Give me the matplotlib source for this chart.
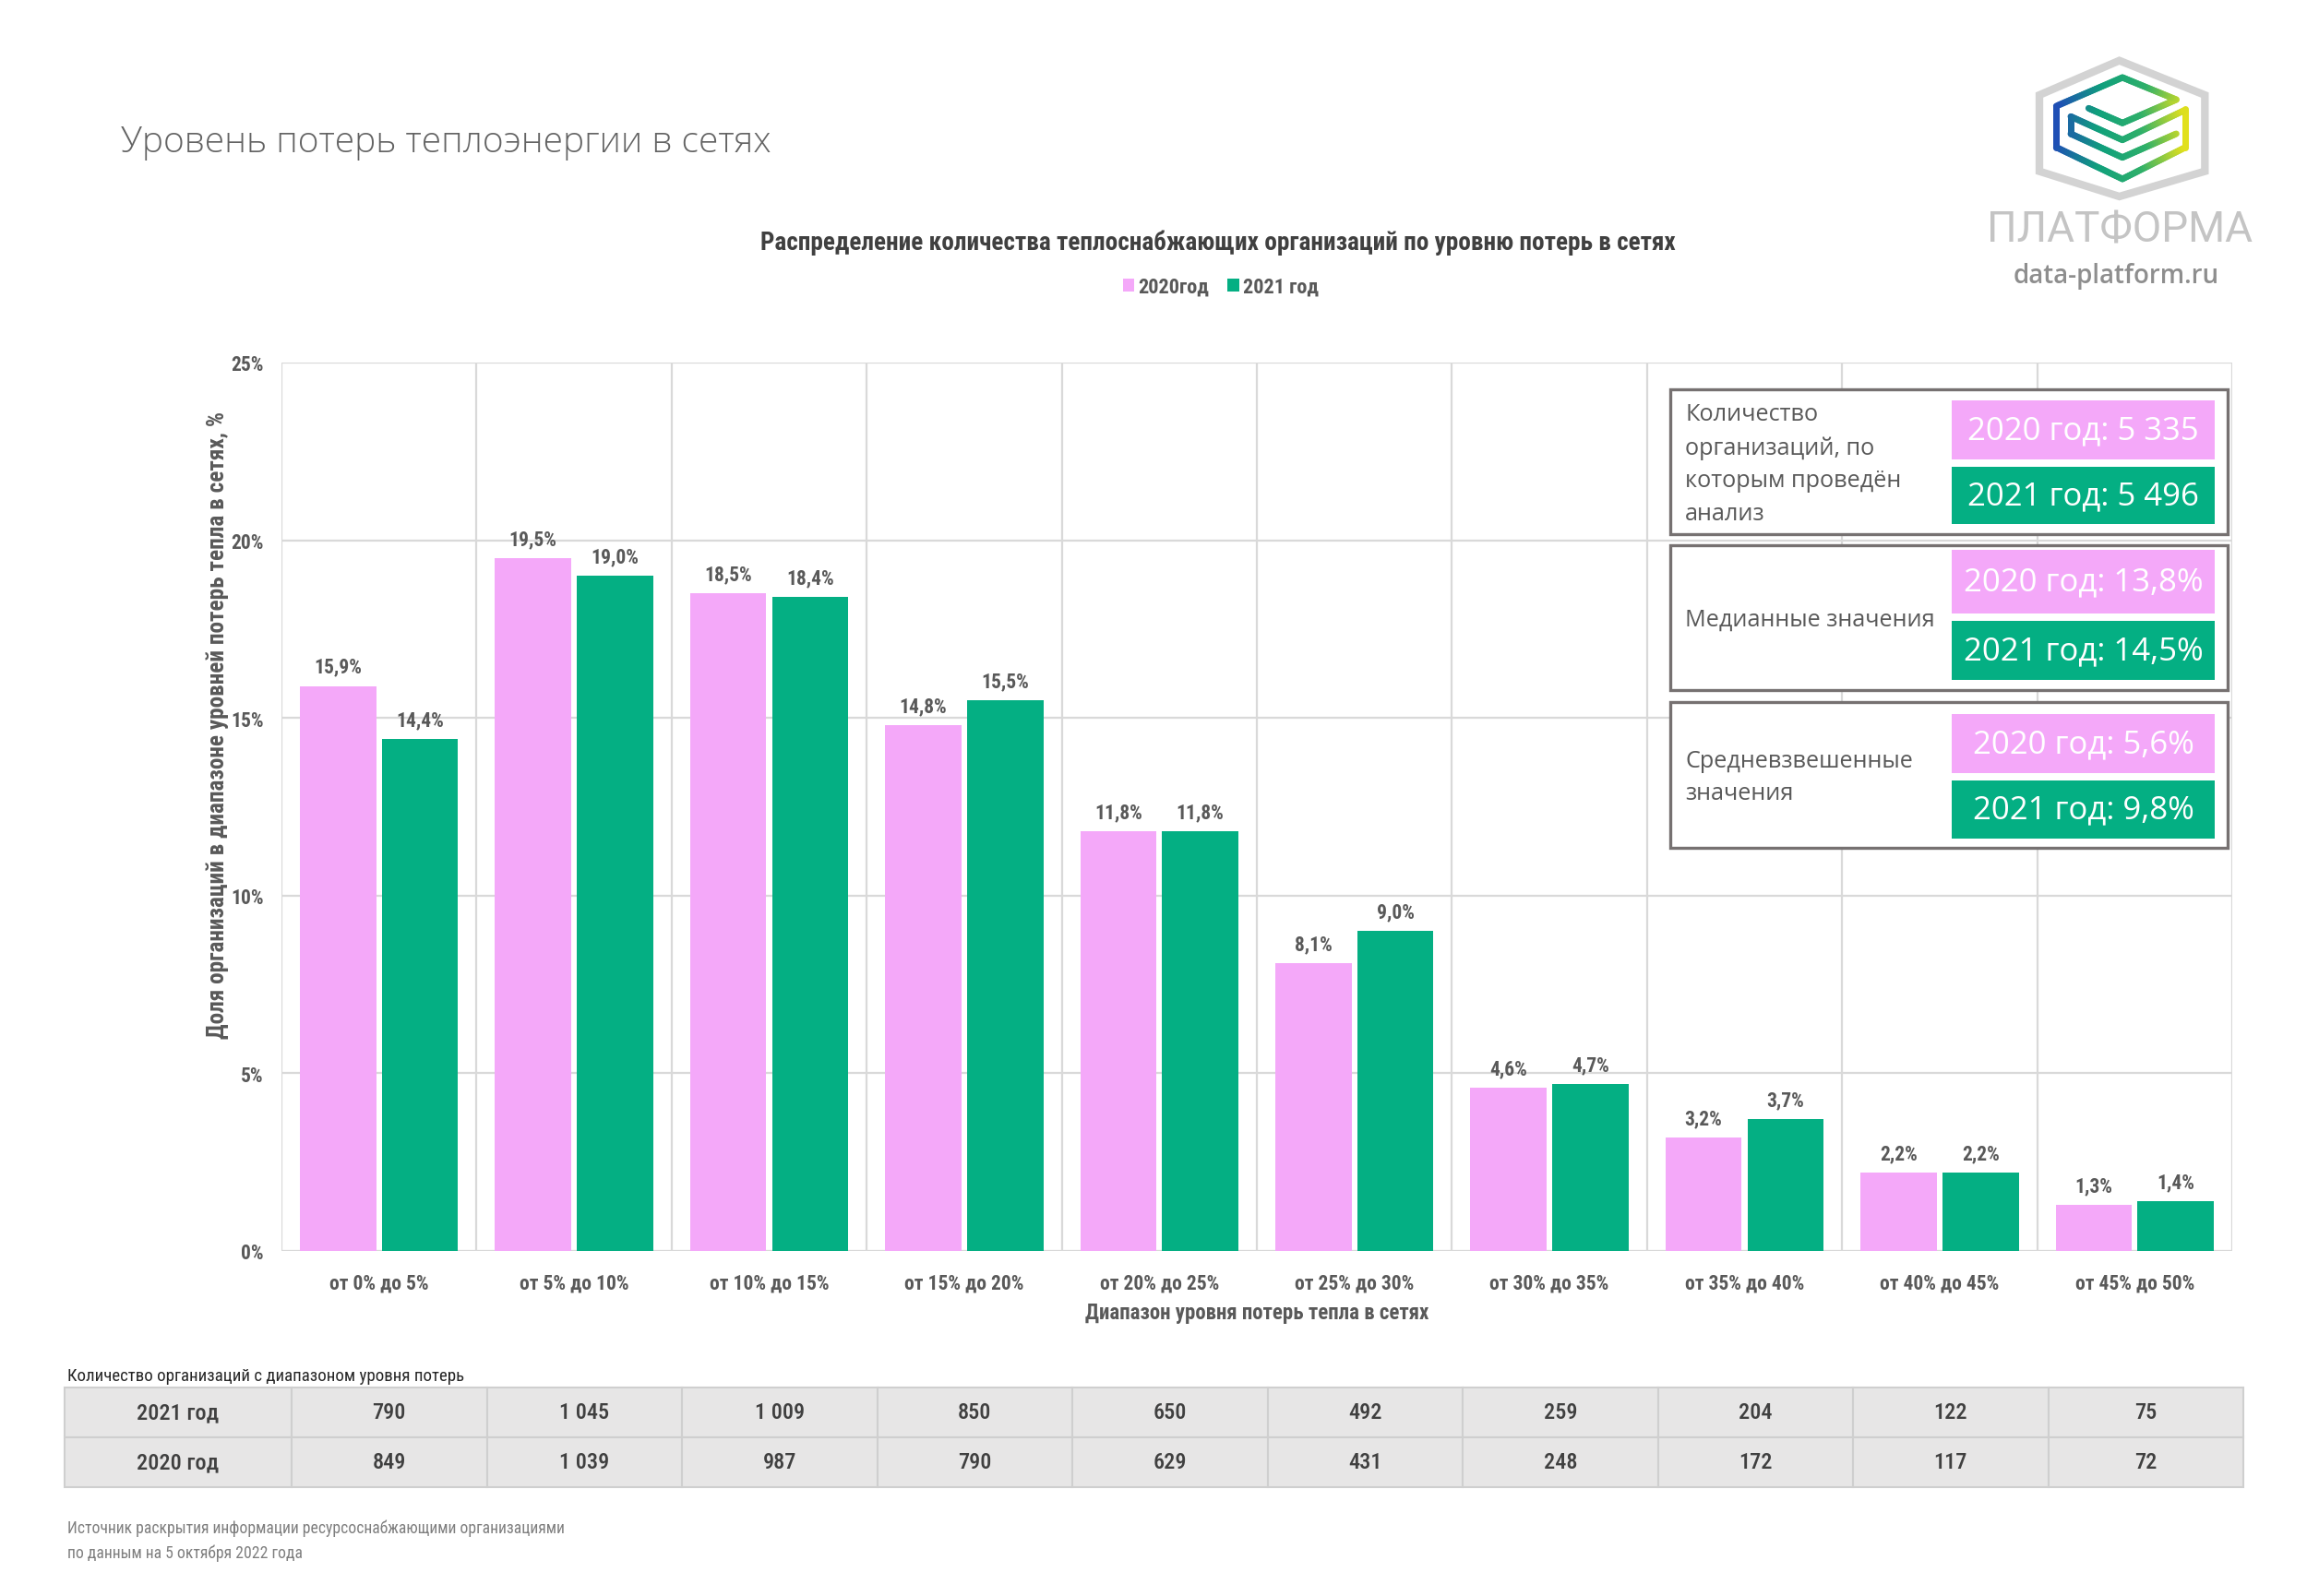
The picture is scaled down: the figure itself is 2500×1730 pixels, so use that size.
import numpy as np
import matplotlib
matplotlib.use("Agg")
import matplotlib.pyplot as plt
from matplotlib import font_manager as fm
from matplotlib.patches import Rectangle, Polygon
from matplotlib.collections import LineCollection
from matplotlib.colors import LinearSegmentedColormap

# ---------------- data ----------------
categories = ['от 0% до 5%', 'от 5% до 10%', 'от 10% до 15%', 'от 15% до 20%',
              'от 20% до 25%', 'от 25% до 30%', 'от 30% до 35%', 'от 35% до 40%',
              'от 40% до 45%', 'от 45% до 50%']
share_2020 = [15.9, 19.5, 18.5, 14.8, 11.8, 8.1, 4.6, 3.2, 2.2, 1.3]
share_2021 = [14.4, 19.0, 18.4, 15.5, 11.8, 9.0, 4.7, 3.7, 2.2, 1.4]
count_2021 = [790, 1045, 1009, 850, 650, 492, 259, 204, 122, 75]
count_2020 = [849, 1039, 987, 790, 629, 431, 248, 172, 117, 72]
series_labels = ['2020год', '2021 год']
table_row_labels = ['2021 год', '2020 год']
yticks = [0, 5, 10, 15, 20, 25]
summary_labels = ['Количество\nорганизаций, по\nкоторым проведён\nанализ',
                  'Медианные значения',
                  'Средневзвешенные\nзначения']
summary_2020 = ['2020 год: 5 335', '2020 год: 13,8%', '2020 год: 5,6%']
summary_2021 = ['2021 год: 5 496', '2021 год: 14,5%', '2021 год: 9,8%']

title = 'Уровень потерь теплоэнергии в сетях'
subtitle = 'Распределение количества теплоснабжающих организаций по уровню потерь в сетях'
xlabel = 'Диапазон уровня потерь тепла в сетях'
ylabel = 'Доля организаций в диапазоне уровней потерь тепла в сетях, %'
table_title = 'Количество организаций с диапазоном уровня потерь'
footer = ['Источник раскрытия информации ресурсоснабжающими организациями',
          'по данным на 5 октября 2022 года']

PINK = '#F4A8F9'
GREEN = '#04AF83'
DARK = '#404040'
MID = '#595959'

# ---------------- fonts ----------------
def _weight(f):
    w = f.weight
    if isinstance(w, str):
        w = fm.weight_dict.get(w, 400)
    return int(w)

def _stretch(f):
    s = f.stretch
    if isinstance(s, str):
        s = fm.stretch_dict.get(s, 500)
    return int(s)

PREF = ['Roboto Condensed', 'Open Sans Condensed', 'Noto Sans', 'Open Sans',
        'Liberation Sans Narrow', 'DejaVu Sans', 'Roboto']

def find_condensed(target_weight):
    cands = []
    for f in fm.fontManager.ttflist:
        name = f.name
        if any(b in name for b in ('Mono', 'Serif', 'CJK', 'Display')):
            continue
        if f.style != 'normal':
            continue
        is_cond = (_stretch(f) < 500 or 'Condensed' in name or 'Narrow' in name
                   or 'Condensed' in f.fname or 'Narrow' in f.fname)
        if not is_cond:
            continue
        rank = None
        for i, p in enumerate(PREF):
            if name.startswith(p):
                rank = i
                break
        if rank is None:
            continue
        cands.append((rank, abs(_weight(f) - target_weight), abs(_stretch(f) - 300), f.fname))
    if cands:
        cands.sort()
        return fm.FontProperties(fname=cands[0][3])
    return fm.FontProperties(family=['Roboto', 'DejaVu Sans'],
                             weight='bold' if target_weight >= 600 else 'normal')

COND_B = find_condensed(700)
COND_M = find_condensed(500)
COND_R = find_condensed(400)

def fp(base, size):
    p = base.copy()
    p.set_size(size)
    return p

SANS = ['Open Sans', 'DejaVu Sans']

# ---------------- figure ----------------
W, H = 2500, 1731
fig = plt.figure(figsize=(W / 100, H / 100), dpi=100)
fig.patch.set_facecolor('white')

def fx(x):
    return x / W

def fy(y):
    return 1 - y / H

# main axes
L, R, T, B = 305, 2419, 394, 1357
ax = fig.add_axes([fx(L), fy(B), (R - L) / W, (B - T) / H])
x = np.arange(len(categories))
bw, off = 0.39, 0.21
b1 = ax.bar(x - off, share_2020, bw, color=PINK, label=series_labels[0], zorder=3)
b2 = ax.bar(x + off, share_2021, bw, color=GREEN, label=series_labels[1], zorder=3)

for bars, vals in ((b1, share_2020), (b2, share_2021)):
    ax.bar_label(bars, labels=[f'{v:.1f}%'.replace('.', ',') for v in vals],
                 padding=7, color=MID, fontproperties=fp(COND_B, 15.5))

ax.set_xlim(-0.5, len(categories) - 0.5)
ax.set_ylim(0, 25)
ax.set_yticks(yticks)
ax.set_yticklabels([f'{v}%' for v in yticks])
ax.set_xticks(x)
ax.set_xticklabels(categories)
ax.set_xticks(np.arange(-0.5, len(categories), 1), minor=True)
ax.tick_params(axis='both', which='both', length=0)
ax.tick_params(axis='y', pad=14)
ax.tick_params(axis='x', pad=17)
for lab in ax.get_yticklabels():
    lab.set_fontproperties(fp(COND_B, 15.5))
    lab.set_color(MID)
for lab in ax.get_xticklabels():
    lab.set_fontproperties(fp(COND_B, 15.5))
    lab.set_color(MID)
ax.yaxis.grid(True, color='#d9d9d9', lw=1.6, zorder=0)
ax.xaxis.grid(True, which='minor', color='#d9d9d9', lw=1.6, zorder=0)
ax.xaxis.grid(False, which='major')
ax.set_axisbelow(True)
for s in ax.spines.values():
    s.set_visible(False)

ax.set_xlabel(xlabel, fontproperties=fp(COND_B, 16.5), color=MID)
ax.xaxis.set_label_coords(0.5, (B - 1424) / (B - T))
ax.xaxis.label.set_va('center')
ax.set_ylabel(ylabel, fontproperties=fp(COND_B, 18.2), color=MID)
ax.yaxis.set_label_coords((236 - L) / (R - L), (B - 786) / (B - T))
ax.yaxis.label.set_va('center')

# legend
fig.legend(handles=[b1, b2], loc='center', bbox_to_anchor=(fx(1323), fy(312)),
           ncol=2, frameon=False, prop=fp(COND_B, 16), labelcolor=MID,
           handlelength=0.55, handleheight=0.55, handletextpad=0.2,
           columnspacing=0.9)

# titles
fig.text(fx(131), fy(155), title, ha='left', va='center', fontsize=28,
         family=SANS, weight='light', color='#636363')
fig.text(fx(1320), fy(263), subtitle, ha='center', va='center',
         fontproperties=fp(COND_B, 19.6), color=DARK)

# ---------------- summary boxes ----------------
box_x0, box_x1 = 1810, 2414
inner_x0, inner_x1 = 2115, 2400
box_rows = [(423, 580, 435, 499, 507, 569),
            (592, 749, 597, 666, 674, 738),
            (762, 920, 775, 839, 847, 910)]
for (t, b, pt, pb, gt, gb), lab, v20, v21 in zip(box_rows, summary_labels,
                                                 summary_2020, summary_2021):
    fig.patches.append(Rectangle((fx(box_x0), fy(b)), (box_x1 - box_x0) / W,
                                 (b - t) / H, transform=fig.transFigure,
                                 facecolor='white', edgecolor='#767171', lw=2.4,
                                 zorder=5))
    fig.patches.append(Rectangle((fx(inner_x0), fy(pb)), (inner_x1 - inner_x0) / W,
                                 (pb - pt) / H, transform=fig.transFigure,
                                 facecolor=PINK, edgecolor='none', zorder=6))
    fig.patches.append(Rectangle((fx(inner_x0), fy(gb)), (inner_x1 - inner_x0) / W,
                                 (gb - gt) / H, transform=fig.transFigure,
                                 facecolor=GREEN, edgecolor='none', zorder=6))
    fig.text(fx(1826), fy((t + b) / 2 + 2), lab, ha='left', va='center', fontsize=18.2,
             family=SANS, color=MID, linespacing=1.55, zorder=7)
    fig.text(fx((inner_x0 + inner_x1) / 2), fy((pt + pb) / 2), v20, ha='center',
             va='center', fontsize=25, family=SANS, color='white', zorder=7)
    fig.text(fx((inner_x0 + inner_x1) / 2), fy((gt + gb) / 2), v21, ha='center',
             va='center', fontsize=25, family=SANS, color='white', zorder=7)

# ---------------- table ----------------
fig.text(fx(73), fy(1492), table_title, ha='left', va='center',
         fontproperties=fp(COND_R, 13.6), color='#262626')
tx0, tx1, ty0, ty1 = 70, 2431, 1505, 1613
tab_ax = fig.add_axes([fx(tx0), fy(ty1), (tx1 - tx0) / W, (ty1 - ty0) / H])
tab_ax.axis('off')
fmt = lambda v: f'{v:,}'.replace(',', ' ')
cell_text = [[table_row_labels[0]] + [fmt(v) for v in count_2021],
             [table_row_labels[1]] + [fmt(v) for v in count_2020]]
first_w = 246
other_w = (tx1 - tx0 - first_w) / len(categories)
col_w = [first_w / (tx1 - tx0)] + [other_w / (tx1 - tx0)] * len(categories)
tbl = tab_ax.table(cellText=cell_text, colWidths=col_w, cellLoc='center',
                   bbox=[0, 0, 1, 1])
tbl.auto_set_font_size(False)
for (r, c), cell in tbl.get_celld().items():
    cell.set_facecolor('#E7E6E6')
    cell.set_edgecolor('#CFCFCF')
    cell.set_linewidth(1.5)
    cell.get_text().set_fontproperties(fp(COND_M, 17.5))
    cell.get_text().set_color(DARK)

# footer
fig.text(fx(73), fy(1657), footer[0], ha='left', va='center',
         fontproperties=fp(COND_R, 12.7), color='#7f7f7f')
fig.text(fx(73), fy(1684), footer[1], ha='left', va='center',
         fontproperties=fp(COND_R, 12.7), color='#7f7f7f')

# ---------------- logo ----------------
lax = fig.add_axes([fx(2100), fy(340), 400 / W, 300 / H])
lax.set_xlim(0, 1200)
lax.set_ylim(900, 0)
lax.axis('off')
hexagon = [(590, 80), (868, 192), (868, 440), (590, 522), (330, 440), (330, 192)]
lax.add_patch(Polygon(hexagon, closed=True, fill=False, edgecolor='#d3d3d3',
                      lw=6, joinstyle='miter'))
cmap = LinearSegmentedColormap.from_list('logo', ['#1f4fb5', '#10a07c',
                                                   '#2fb06a', '#e8e21a'])
paths = [
    [(490, 235), (600, 283), (775, 207), (600, 135), (385, 228), (385, 362),
     (600, 465), (805, 362), (805, 238)],
    [(775, 318), (600, 395), (432, 318), (432, 262), (600, 338), (805, 240)],
]
for pth in paths:
    pts = []
    for (xa, ya), (xb, yb) in zip(pth[:-1], pth[1:]):
        for t in np.linspace(0, 1, 30, endpoint=False):
            pts.append((xa + (xb - xa) * t, ya + (yb - ya) * t))
    pts.append(pth[-1])
    pts = np.array(pts)
    segs = np.stack([pts[:-1], pts[1:]], axis=1)
    cols = cmap(np.clip((segs[:, :, 0].mean(axis=1) - 385) / (810 - 385), 0, 1))
    lax.add_collection(LineCollection(segs, colors=cols, lw=5, capstyle='round'))
lax.text(590, 630, 'ПЛАТФОРМА', ha='center', va='center', fontsize=33,
         family=['Roboto', 'DejaVu Sans'], weight='normal', color='#c4c4c4')
lax.text(580, 778, 'data-platform.ru', ha='center', va='center', fontsize=20,
         family=SANS, weight='semibold', color='#8e8e8e')

fig.savefig('out.png', dpi=100, facecolor='white')
